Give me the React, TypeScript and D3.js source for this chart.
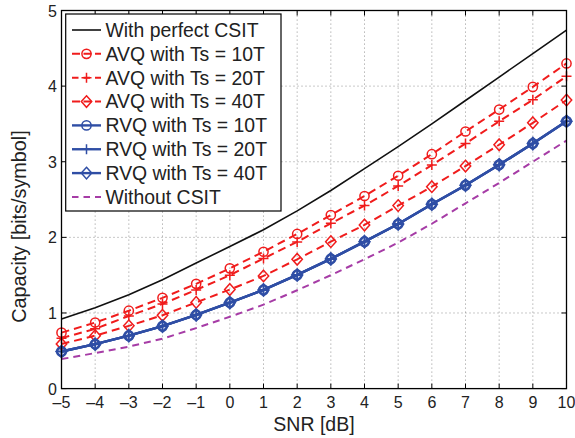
import React from "react";
import * as d3 from "d3";

const snr = [-5, -4, -3, -2, -1, 0, 1, 2, 3, 4, 5, 6, 7, 8, 9, 10];
const perfectCSIT = [0.92, 1.07, 1.24, 1.44, 1.66, 1.88, 2.1, 2.35, 2.62, 2.91, 3.2, 3.5, 3.81, 4.12, 4.43, 4.74];
const avq10 = [0.74, 0.873, 1.03, 1.2, 1.385, 1.59, 1.81, 2.045, 2.295, 2.547, 2.815, 3.1, 3.4, 3.69, 3.99, 4.3];
const avq20 = [0.667, 0.79, 0.96, 1.12, 1.305, 1.5, 1.72, 1.94, 2.185, 2.42, 2.68, 2.956, 3.24, 3.535, 3.82, 4.13];
const avq40 = [0.59, 0.7, 0.83, 0.97, 1.14, 1.31, 1.49, 1.71, 1.943, 2.164, 2.42, 2.67, 2.943, 3.225, 3.515, 3.815];
const rvq10 = [0.49, 0.588, 0.7, 0.825, 0.975, 1.137, 1.305, 1.503, 1.715, 1.943, 2.177, 2.437, 2.69, 2.96, 3.24, 3.535];
const rvq20 = [0.49, 0.588, 0.7, 0.825, 0.975, 1.137, 1.305, 1.503, 1.715, 1.943, 2.177, 2.437, 2.69, 2.96, 3.24, 3.535];
const rvq40 = [0.49, 0.588, 0.7, 0.825, 0.975, 1.137, 1.305, 1.503, 1.715, 1.943, 2.177, 2.437, 2.69, 2.96, 3.24, 3.535];
const noCSIT = [0.39, 0.47, 0.555, 0.66, 0.8, 0.95, 1.11, 1.3, 1.5, 1.71, 1.93, 2.18, 2.45, 2.72, 3.0, 3.28];

const xTicks = [-5, -4, -3, -2, -1, 0, 1, 2, 3, 4, 5, 6, 7, 8, 9, 10];
const yTicks = [0, 1, 2, 3, 4, 5];

const legendLabels = [
  "With perfect CSIT",
  "AVQ with Ts = 10T",
  "AVQ with Ts = 20T",
  "AVQ with Ts = 40T",
  "RVQ with Ts = 10T",
  "RVQ with Ts = 20T",
  "RVQ with Ts = 40T",
  "Without CSIT",
];

const RED = "#f01c1c";
const BLUE = "#2f4ea5";
const BLACK = "#111";
const PURPLE = "#a63ca6";

type Marker = "none" | "circle" | "plus" | "diamond";
interface Series {
  values: number[];
  color: string;
  dash?: string;
  legendDash?: string;
  width: number;
  marker: Marker;
}

const series: Series[] = [
  { values: perfectCSIT, color: BLACK, width: 1.6, marker: "none" },
  { values: avq10, color: RED, dash: "8,5", legendDash: "8,3.5", width: 2, marker: "circle" },
  { values: avq20, color: RED, dash: "8,5", legendDash: "6.5,5", width: 2, marker: "plus" },
  { values: avq40, color: RED, dash: "8,5", legendDash: "8,3.5", width: 2, marker: "diamond" },
  { values: rvq10, color: BLUE, width: 2.4, marker: "circle" },
  { values: rvq20, color: BLUE, width: 2.4, marker: "plus" },
  { values: rvq40, color: BLUE, width: 2.4, marker: "diamond" },
  { values: noCSIT, color: PURPLE, dash: "7,5", legendDash: "6.5,5", width: 2, marker: "none" },
];

const W = 575;
const H = 438;
const FONT = "'Liberation Sans', Arial, Helvetica, sans-serif";

const x = d3.scaleLinear().domain([-5, 10]).range([61.5, 566.5]);
const y = d3.scaleLinear().domain([0, 5]).range([388.6, 10.5]);

function MarkerShape({ kind, cx, cy, color, sw }: { kind: Marker; cx: number; cy: number; color: string; sw: number }) {
  if (kind === "circle") return <circle cx={cx} cy={cy} r={4.6} fill="#fff" fillOpacity={0} stroke={color} strokeWidth={sw} />;
  if (kind === "plus")
    return (
      <path d={`M${cx - 5},${cy}H${cx + 5}M${cx},${cy - 5}V${cy + 5}`} stroke={color} strokeWidth={sw} fill="none" />
    );
  if (kind === "diamond")
    return (
      <path
        d={`M${cx},${cy - 5.8}L${cx + 5.2},${cy}L${cx},${cy + 5.8}L${cx - 5.2},${cy}Z`}
        stroke={color}
        strokeWidth={sw}
        fill="none"
      />
    );
  return null;
}

export default function App() {
  const line = d3
    .line<number>()
    .x((_, i) => x(snr[i]))
    .y((d) => y(d))
    .curve(d3.curveLinear);

  const [x0, x1] = x.range();
  const [yb, yt] = y.range();

  const legX = 65.7;
  const legY = 14;
  const legW = 215.3;
  const legH = 197;
  const rowY = (i: number) => 30 + i * 23.85;

  return (
    <svg
      width={W}
      height={H}
      style={{ position: "absolute", left: 0, top: 0, background: "#fff" }}
      fontFamily={FONT}
    >
      <rect x={0} y={0} width={W} height={H} fill="#fff" />
      {/* grid */}
      {xTicks.slice(1, -1).map((t) => (
        <line key={"gx" + t} x1={x(t)} x2={x(t)} y1={yb} y2={yt} stroke="#777" strokeWidth={0.8} strokeDasharray="1,3" />
      ))}
      {yTicks.slice(1, -1).map((t) => (
        <line key={"gy" + t} x1={x0} x2={x1} y1={y(t)} y2={y(t)} stroke="#777" strokeWidth={0.8} strokeDasharray="1,3" />
      ))}
      {/* ticks */}
      {xTicks.map((t) => (
        <g key={"tx" + t}>
          <line x1={x(t)} x2={x(t)} y1={yb} y2={yb - 5} stroke="#000" strokeWidth={1} />
          <line x1={x(t)} x2={x(t)} y1={yt} y2={yt + 5} stroke="#000" strokeWidth={1} />
          <text x={x(t)} y={408} textAnchor="middle" fontSize={16} fill="#222">
            {t < 0 ? "\u2013" + Math.abs(t) : String(t)}
          </text>
        </g>
      ))}
      {yTicks.map((t) => (
        <g key={"ty" + t}>
          <line x1={x0} x2={x0 + 5} y1={y(t)} y2={y(t)} stroke="#000" strokeWidth={1} />
          <line x1={x1} x2={x1 - 5} y1={y(t)} y2={y(t)} stroke="#000" strokeWidth={1} />
          <text x={57} y={y(t) + 6} textAnchor="end" fontSize={16} fill="#222">
            {String(t)}
          </text>
        </g>
      ))}
      {/* series */}
      {series.map((s, si) => (
        <g key={"s" + si}>
          <path
            d={line(s.values) || ""}
            fill="none"
            stroke={s.color}
            strokeWidth={s.width}
            strokeDasharray={s.dash}
          />
          {s.marker !== "none" &&
            s.values.map((v, i) => (
              <MarkerShape key={i} kind={s.marker} cx={x(snr[i])} cy={y(v)} color={s.color} sw={s.color === BLUE ? 2 : 1.5} />
            ))}
        </g>
      ))}
      {/* frame */}
      <rect x={x0} y={yt} width={x1 - x0} height={yb - yt} fill="none" stroke="#000" strokeWidth={1.3} />
      {/* legend */}
      <rect x={legX} y={legY} width={legW} height={legH} fill="#fff" stroke="#000" strokeWidth={1.2} />
      {series.map((s, i) => {
        const cy = rowY(i);
        return (
          <g key={"l" + i}>
            <line
              x1={72}
              x2={101}
              y1={cy}
              y2={cy}
              stroke={s.color}
              strokeWidth={s.width}
              strokeDasharray={s.legendDash}
            />
            {s.marker !== "none" && (
              <MarkerShape kind={s.marker} cx={86.5} cy={cy} color={s.color} sw={1.5} />
            )}
            <text x={105.5} y={cy + 6.8} fontSize={19.4} fill="#222">
              {legendLabels[i]}
            </text>
          </g>
        );
      })}
      {/* axis labels */}
      <text x={(x0 + x1) / 2} y={431} textAnchor="middle" fontSize={19.5} fill="#222">
        SNR [dB]
      </text>
      <text
        transform={`translate(26,${(yb + yt) / 2 + 27}) rotate(-90)`}
        textAnchor="middle"
        fontSize={19.8}
        fill="#222"
      >
        Capacity [bits/symbol]
      </text>
    </svg>
  );
}
